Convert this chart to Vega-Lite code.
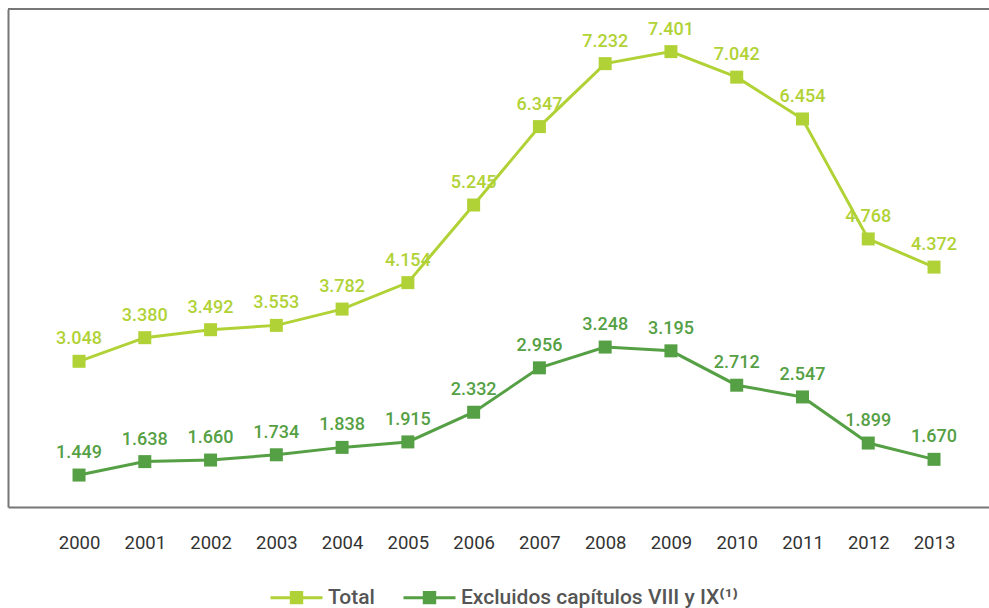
{
  "$schema": "https://vega.github.io/schema/vega-lite/v6.json",
  "width": 981,
  "height": 498,
  "autosize": {"type": "none"},
  "padding": {"left": 8, "top": 9, "right": 0, "bottom": 101},
  "config": {
    "view": {"stroke": null},
    "font": "Roboto",
    "locale": {"number": {"decimal": ",", "thousands": ".", "grouping": [3], "currency": ["", " €"]}}
  },
  "data": {"values": [
    {"year": 2000, "serie": "Total", "value": 3048},
    {"year": 2001, "serie": "Total", "value": 3380},
    {"year": 2002, "serie": "Total", "value": 3492},
    {"year": 2003, "serie": "Total", "value": 3553},
    {"year": 2004, "serie": "Total", "value": 3782},
    {"year": 2005, "serie": "Total", "value": 4154},
    {"year": 2006, "serie": "Total", "value": 5245},
    {"year": 2007, "serie": "Total", "value": 6347},
    {"year": 2008, "serie": "Total", "value": 7232},
    {"year": 2009, "serie": "Total", "value": 7401},
    {"year": 2010, "serie": "Total", "value": 7042},
    {"year": 2011, "serie": "Total", "value": 6454},
    {"year": 2012, "serie": "Total", "value": 4768},
    {"year": 2013, "serie": "Total", "value": 4372},
    {"year": 2000, "serie": "Excluidos capítulos VIII y IX⁽¹⁾", "value": 1449},
    {"year": 2001, "serie": "Excluidos capítulos VIII y IX⁽¹⁾", "value": 1638},
    {"year": 2002, "serie": "Excluidos capítulos VIII y IX⁽¹⁾", "value": 1660},
    {"year": 2003, "serie": "Excluidos capítulos VIII y IX⁽¹⁾", "value": 1734},
    {"year": 2004, "serie": "Excluidos capítulos VIII y IX⁽¹⁾", "value": 1838},
    {"year": 2005, "serie": "Excluidos capítulos VIII y IX⁽¹⁾", "value": 1915},
    {"year": 2006, "serie": "Excluidos capítulos VIII y IX⁽¹⁾", "value": 2332},
    {"year": 2007, "serie": "Excluidos capítulos VIII y IX⁽¹⁾", "value": 2956},
    {"year": 2008, "serie": "Excluidos capítulos VIII y IX⁽¹⁾", "value": 3248},
    {"year": 2009, "serie": "Excluidos capítulos VIII y IX⁽¹⁾", "value": 3195},
    {"year": 2010, "serie": "Excluidos capítulos VIII y IX⁽¹⁾", "value": 2712},
    {"year": 2011, "serie": "Excluidos capítulos VIII y IX⁽¹⁾", "value": 2547},
    {"year": 2012, "serie": "Excluidos capítulos VIII y IX⁽¹⁾", "value": 1899},
    {"year": 2013, "serie": "Excluidos capítulos VIII y IX⁽¹⁾", "value": 1670}
  ]},
  "layer": [
    {
      "data": {"values": [{"top": 8000}]},
      "mark": {"type": "rule", "color": "#777777", "strokeWidth": 2},
      "encoding": {
        "y": {"field": "top", "type": "quantitative", "scale": {"domain": [1000, 8000]}}
      }
    },
    {
      "encoding": {
        "x": {
          "field": "year", "type": "quantitative",
          "scale": {"domain": [1998.92, 2013.836], "nice": false, "zero": false},
          "axis": {
            "values": [2000, 2001, 2002, 2003, 2004, 2005, 2006, 2007, 2008, 2009, 2010, 2011, 2012, 2013],
            "format": "d", "title": null, "grid": false, "ticks": false,
            "domain": true, "domainColor": "#777777", "domainWidth": 2,
            "labelFontSize": 18.5, "labelColor": "#333333", "labelPadding": 26, "labelFlush": false
          }
        },
        "y": {
          "field": "value", "type": "quantitative",
          "scale": {"domain": [1000, 8000], "nice": false, "zero": false},
          "axis": {"title": null, "labels": false, "ticks": false, "grid": false, "domain": true, "domainColor": "#777777", "domainWidth": 2}
        },
        "color": {
          "field": "serie", "type": "nominal",
          "scale": {"domain": ["Total", "Excluidos capítulos VIII y IX⁽¹⁾"], "range": ["#b1d236", "#55a044"]},
          "legend": {
            "orient": "none", "legendX": 261, "legendY": 561, "direction": "horizontal", "title": null,
            "symbolType": "M-1,0H1M-0.2,-0.2H0.2V0.2H-0.2Z", "symbolSize": 2704, "symbolStrokeWidth": 3,
            "labelFontSize": 21, "labelColor": "#555555", "labelFontWeight": 500, "labelOffset": 4,
            "labelLimit": 500, "columnPadding": 22, "symbolOpacity": 1,
            "encode": {"symbols": {"update": {"fill": {"scale": "color", "field": "value"}, "stroke": {"scale": "color", "field": "value"}}}}
          }
        }
      },
      "layer": [
        {"mark": {"type": "line", "strokeWidth": 3}},
        {"mark": {"type": "point", "shape": "square", "filled": true, "size": 169, "opacity": 1}},
        {"mark": {"type": "text", "dy": -17, "baseline": "alphabetic", "fontSize": 18, "fontWeight": 500},
         "encoding": {"text": {"field": "value", "type": "quantitative", "format": ",d"}}}
      ]
    }
  ]
}
